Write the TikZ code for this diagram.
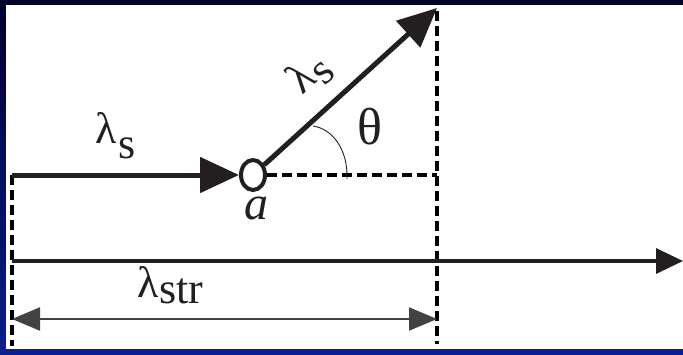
\documentclass[tikz,border=0pt]{standalone}
\usepackage{fontspec}
\setmainfont{Liberation Serif}
\newfontfamily\lblserif{Liberation Serif}
\usetikzlibrary{arrows.meta,shapes.geometric}
\definecolor{ink}{HTML}{231F20}
\definecolor{navytop}{HTML}{000028}
\definecolor{navybot}{HTML}{0C1C92}
\begin{document}
\begin{tikzpicture}[x=1pt,y=-1pt,
  fatline/.style={draw=ink,line width=5pt},
  axisline/.style={draw=ink,line width=3.5pt},
  dimline/.style={draw=ink!85,line width=2.2pt},
  guide/.style={draw=black,line width=3.2pt,dash pattern=on 10pt off 5pt},
  bighead/.style={-{Triangle[length=39pt,width=35pt]}},
  midhead/.style={-{Triangle[length=27pt,width=25pt]}},
  dimhead/.style={{Triangle[length=28pt,width=23pt]}-{Triangle[length=28pt,width=23pt]}},
  lbl/.style={inner sep=0pt,text=ink,font=\lblserif\fontsize{44}{44}\selectfont}]
\useasboundingbox (0,0) rectangle (683,354);
\shade[top color=navytop,bottom color=navybot] (0,0) rectangle (683,354);
\fill[white] (6,5) rectangle (683,349);
% coordinates
\coordinate (L) at (12,175);
\coordinate (Lb) at (12,346);
\coordinate (T) at (437,8);
\coordinate (Tt) at (437,11);
\coordinate (C) at (437,175);
\coordinate (Rb) at (437,344);
\coordinate (A0) at (12,261);
\coordinate (A1) at (683,261);
\coordinate (D0) at (12,319);
\coordinate (D1) at (437,319);
\coordinate (th0) at (313,126);
\coordinate (th1) at (347,179);
% guides
\draw[guide] (L) -- (Lb);
\draw[guide] (Tt) -- (Rb);
% circle
\node[ellipse,draw=ink,line width=4pt,fill=white,minimum width=24pt,minimum height=30pt,inner sep=0pt] (a) at (253,175) {};
\draw[guide] (a.east) -- (C);
% arrows
\draw[fatline,bighead] (L) -- (a.west);
\draw[fatline,bighead] (a) -- (T);
\draw[axisline,midhead] (A0) -- (A1);
\draw[dimline,dimhead] (D0) -- (D1);
% angle arc
\draw[ink,line width=0.9pt] (th0) .. controls (333,129) and (348,150) .. (th1);
% labels
\node[lbl,anchor=base west] (ls1) at (95,143) {λ\kern2pt\raisebox{-15pt}{s}};
\node[lbl,anchor=base west] (lstr) at (137,297) {λ\kern1pt\raisebox{-6pt}{str}};
\node[lbl,rotate=42] (ls2) at (310,74) {λ\kern1pt\raisebox{-8pt}{s}};
\node[lbl,font=\lblserif\fontsize{52}{52}\selectfont] (th) at (370,127) {θ};
\node[lbl,font=\lblserif\fontsize{48}{48}\selectfont\itshape] (lbla) at (256,208) {a};
\end{tikzpicture}
\end{document}
